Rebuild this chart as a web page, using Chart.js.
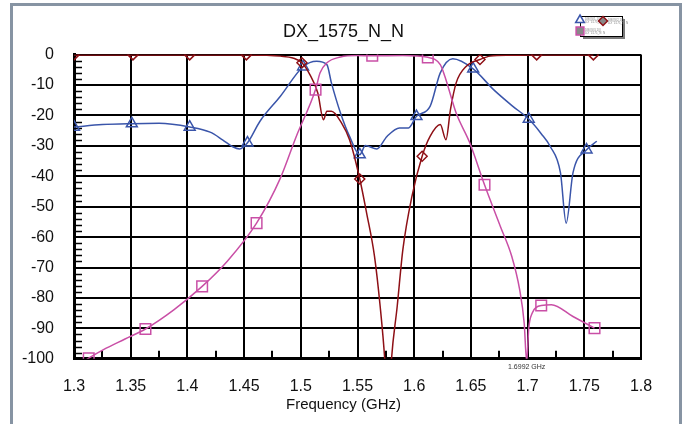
<!DOCTYPE html>
<html>
<head>
<meta charset="utf-8">
<script src="https://cdn.jsdelivr.net/npm/chart.js@4.4.1/dist/chart.umd.min.js"></script>
<style>
  body { margin: 0; background: #fff; }
  #wrap { width: 687px; height: 424px; }
</style>
</head>
<body>
<div id="wrap"><canvas id="grafica" width="687" height="424"></canvas></div>
<script>
// datos (frecuencia en GHz, valores en dB)
const s11Freq = [1.30, 1.325, 1.351, 1.375, 1.402, 1.42, 1.431, 1.44, 1.446, 1.453, 1.464, 1.482, 1.502, 1.514, 1.523, 1.527, 1.535, 1.543, 1.552, 1.557, 1.567, 1.576, 1.587, 1.595, 1.602, 1.614, 1.623, 1.634, 1.652, 1.670, 1.687, 1.701, 1.712, 1.720, 1.729, 1.734, 1.740, 1.752, 1.761];
const s11Db = [-23.8, -23, -22.7, -22.6, -23.8, -25.5, -28, -30.3, -31, -29, -21.9, -13.7, -4, -2.2, -3.3, -9.3, -19.2, -26.9, -32.9, -29.9, -31, -26.9, -24.1, -24.1, -20.3, -17, -6, -1.4, -4.7, -11.5, -17, -21.2, -26, -30.2, -38.9, -55.4, -38.9, -31.3, -28.5];
const s11Marks = [1.30, 1.351, 1.402, 1.453, 1.502, 1.552, 1.602, 1.652, 1.701, 1.752];

const s21Freq = [1.30, 1.352, 1.402, 1.452, 1.47, 1.482, 1.493, 1.501, 1.508, 1.515, 1.520, 1.523, 1.527, 1.536, 1.543, 1.552, 1.558, 1.565, 1.570, 1.574, 1.577, 1.580, 1.585, 1.590, 1.598, 1.607, 1.614, 1.623, 1.628, 1.632, 1.637, 1.646, 1.658, 1.667, 1.685, 1.708, 1.758];
const s21Db = [-0.1, -0.1, -0.1, -0.1, -0.2, -0.5, -1.1, -2.7, -6.6, -12.6, -21.4, -18.6, -18.6, -22.5, -28, -40.9, -52, -66.3, -82.8, -100, -120, -100, -82.8, -64.1, -46.6, -33.4, -26.9, -23, -28, -18, -9.3, -3.8, -1.6, -0.5, -0.2, -0.1, -0.1];
const s21Marks = [1.30, 1.352, 1.402, 1.452, 1.501, 1.552, 1.607, 1.658, 1.708, 1.758];

const s31Freq = [1.30, 1.313, 1.326, 1.345, 1.363, 1.388, 1.413, 1.435, 1.461, 1.482, 1.496, 1.513, 1.517, 1.523, 1.535, 1.549, 1.563, 1.59, 1.612, 1.623, 1.627, 1.637, 1.649, 1.662, 1.676, 1.686, 1.693, 1.697, 1.6992, 1.701, 1.704, 1.708, 1.712, 1.721, 1.740, 1.759];
const s31Db = [-103, -99.8, -97, -93.5, -90.2, -83.9, -76.2, -68, -55.4, -40.6, -26.9, -11.5, -6, -2.7, -0.8, -0.3, -0.4, -0.3, -0.9, -3.3, -7.1, -19.2, -29, -42.8, -56.5, -66.3, -77.3, -88.3, -101, -90, -85, -83, -82.5, -82.2, -86.1, -89.9];
const s31Marks = [1.313, 1.363, 1.413, 1.461, 1.513, 1.563, 1.612, 1.662, 1.712, 1.759];

const nombres = ['DB(|S(1,1)|)', 'DB(|S(2,1)|)', 'DB(|S(3,1)|)'];
const colores = ['#3a55aa', '#8e1016', '#c94fa6'];
const marcador = ['1.6992 GHz'];
const marcadorFreq = [1.6992];

const fuente = "'Liberation Sans', Arial, sans-serif";

const juntar = (xs, ys) => xs.map((x, i) => ({x: x, y: ys[i]}));
const radio = (marks, r) => ctx => (ctx.raw && marks.includes(ctx.raw.x)) ? r : 0;

const serie = (i, xs, ys, marks, estilo, r) => ({
    label: nombres[i],
    data: juntar(xs, ys),
    borderColor: colores[i],
    borderWidth: 1.5,
    cubicInterpolationMode: 'monotone',
    pointStyle: estilo,
    pointRadius: radio(marks, r),
    pointHoverRadius: 0,
    pointBorderColor: colores[i],
    pointBackgroundColor: 'rgba(0,0,0,0)',
    pointBorderWidth: 1.5
});

// marco, ticks menores, marcador y leyenda
const extras = {
    id: 'extras',
    beforeDatasetsDraw(chart) {
        const c = chart.ctx, a = chart.chartArea;
        const xs = chart.scales.x, ys = chart.scales.y;
        c.save();
        c.strokeStyle = '#000';
        c.lineWidth = 1.5;
        for (let v = -98; v < 0; v += 2) {
            if (v % 10 === 0) continue;
            const y = Math.round(ys.getPixelForValue(v)) + 0.5;
            c.beginPath(); c.moveTo(a.left, y); c.lineTo(a.left + 8, y); c.stroke();
        }
        c.lineWidth = 2;
        for (let k = 0; k < 10; k++) {
            const x = Math.round(xs.getPixelForValue(1.325 + 0.05 * k));
            c.beginPath(); c.moveTo(x, a.bottom); c.lineTo(x, a.bottom - 8); c.stroke();
        }
        c.restore();
    },
    afterDraw(chart) {
        const c = chart.ctx, a = chart.chartArea;
        const xs = chart.scales.x;
        c.save();
        // marco gris
        c.strokeStyle = '#8794a3';
        c.lineWidth = 3;
        c.strokeRect(11.5, 4.5, 669, 440);
        // texto del marcador
        c.fillStyle = '#333';
        c.font = '7px ' + fuente;
        c.textAlign = 'center';
        c.textBaseline = 'middle';
        marcador.forEach((t, i) => c.fillText(t, xs.getPixelForValue(marcadorFreq[i]), a.bottom + 8));
        // leyenda
        const lx = 580, ly = 16, lw = 42, lh = 20;
        c.fillStyle = '#7a7a7a';
        c.fillRect(lx + 3, ly + 3, lw, lh);
        c.fillStyle = '#fff';
        c.fillRect(lx, ly, lw, lh);
        c.strokeStyle = '#000';
        c.lineWidth = 1;
        c.strokeRect(lx + 0.5, ly + 0.5, lw, lh);
        const pos = [[lx, ly + 4], [lx + 23, ly + 5], [lx, ly + 15]];
        const estilos = ['triangle', 'rectRot', 'rect'];
        const radios = [5, 4.5, 5.5];
        c.font = '3px ' + fuente;
        c.textAlign = 'left';
        pos.forEach((p, i) => {
            c.strokeStyle = colores[i];
            c.lineWidth = 1.5;
            Chart.helpers.drawPoint(c, {pointStyle: estilos[i], radius: radios[i], borderWidth: 1.5}, p[0], p[1]);
            c.fillStyle = '#888';
            c.fillText(nombres[i], p[0] + 5, p[1] - 1);
            c.fillText('DX_1575_N_N', p[0] + 5, p[1] + 2);
        });
        c.restore();
    }
};

const grafica = new Chart(document.getElementById('grafica'), {
    type: 'line',
    data: {
        datasets: [
            serie(2, s31Freq, s31Db, s31Marks, 'rect', 7.5),
            serie(1, s21Freq, s21Db, s21Marks, 'rectRot', 5),
            serie(0, s11Freq, s11Db, s11Marks, 'triangle', 6.3)
        ]
    },
    options: {
        responsive: false,
        animation: false,
        events: [],
        layout: {padding: {left: 14, right: 14, top: 0, bottom: 2}},
        plugins: {
            legend: {display: false},
            tooltip: {enabled: false},
            title: {
                display: true,
                text: 'DX_1575_N_N',
                color: '#111',
                font: {family: fuente, size: 18, weight: 'normal'},
                padding: {top: 21, bottom: 12}
            },
            subtitle: {
                display: true,
                position: 'bottom',
                text: 'Frequency (GHz)',
                color: '#111',
                font: {family: fuente, size: 15, weight: 'normal'},
                padding: {top: 0, bottom: 8}
            }
        },
        scales: {
            x: {
                type: 'linear',
                min: 1.3,
                max: 1.8,
                grid: {color: '#000', lineWidth: 2, drawTicks: false},
                border: {color: '#000', width: 3},
                ticks: {
                    stepSize: 0.05,
                    padding: 18,
                    maxRotation: 0,
                    color: '#111',
                    font: {family: fuente, size: 16},
                    callback: v => String(+v.toFixed(2))
                },
                afterFit: s => { s.height = 37.2; }
            },
            y: {
                min: -100,
                max: 0,
                grid: {color: '#000', lineWidth: 2, drawTicks: false},
                border: {color: '#000', width: 3},
                ticks: {
                    stepSize: 10,
                    padding: 20,
                    color: '#111',
                    font: {family: fuente, size: 16}
                },
                afterFit: s => { s.width = 60; }
            },
            // eje vacio a la derecha, solo para dejar el hueco
            y2: {
                position: 'right',
                min: -100,
                max: 0,
                grid: {display: false},
                border: {display: false},
                ticks: {display: false},
                afterFit: s => { s.width = 32; }
            }
        }
    },
    plugins: [extras]
});
</script>
</body>
</html>
